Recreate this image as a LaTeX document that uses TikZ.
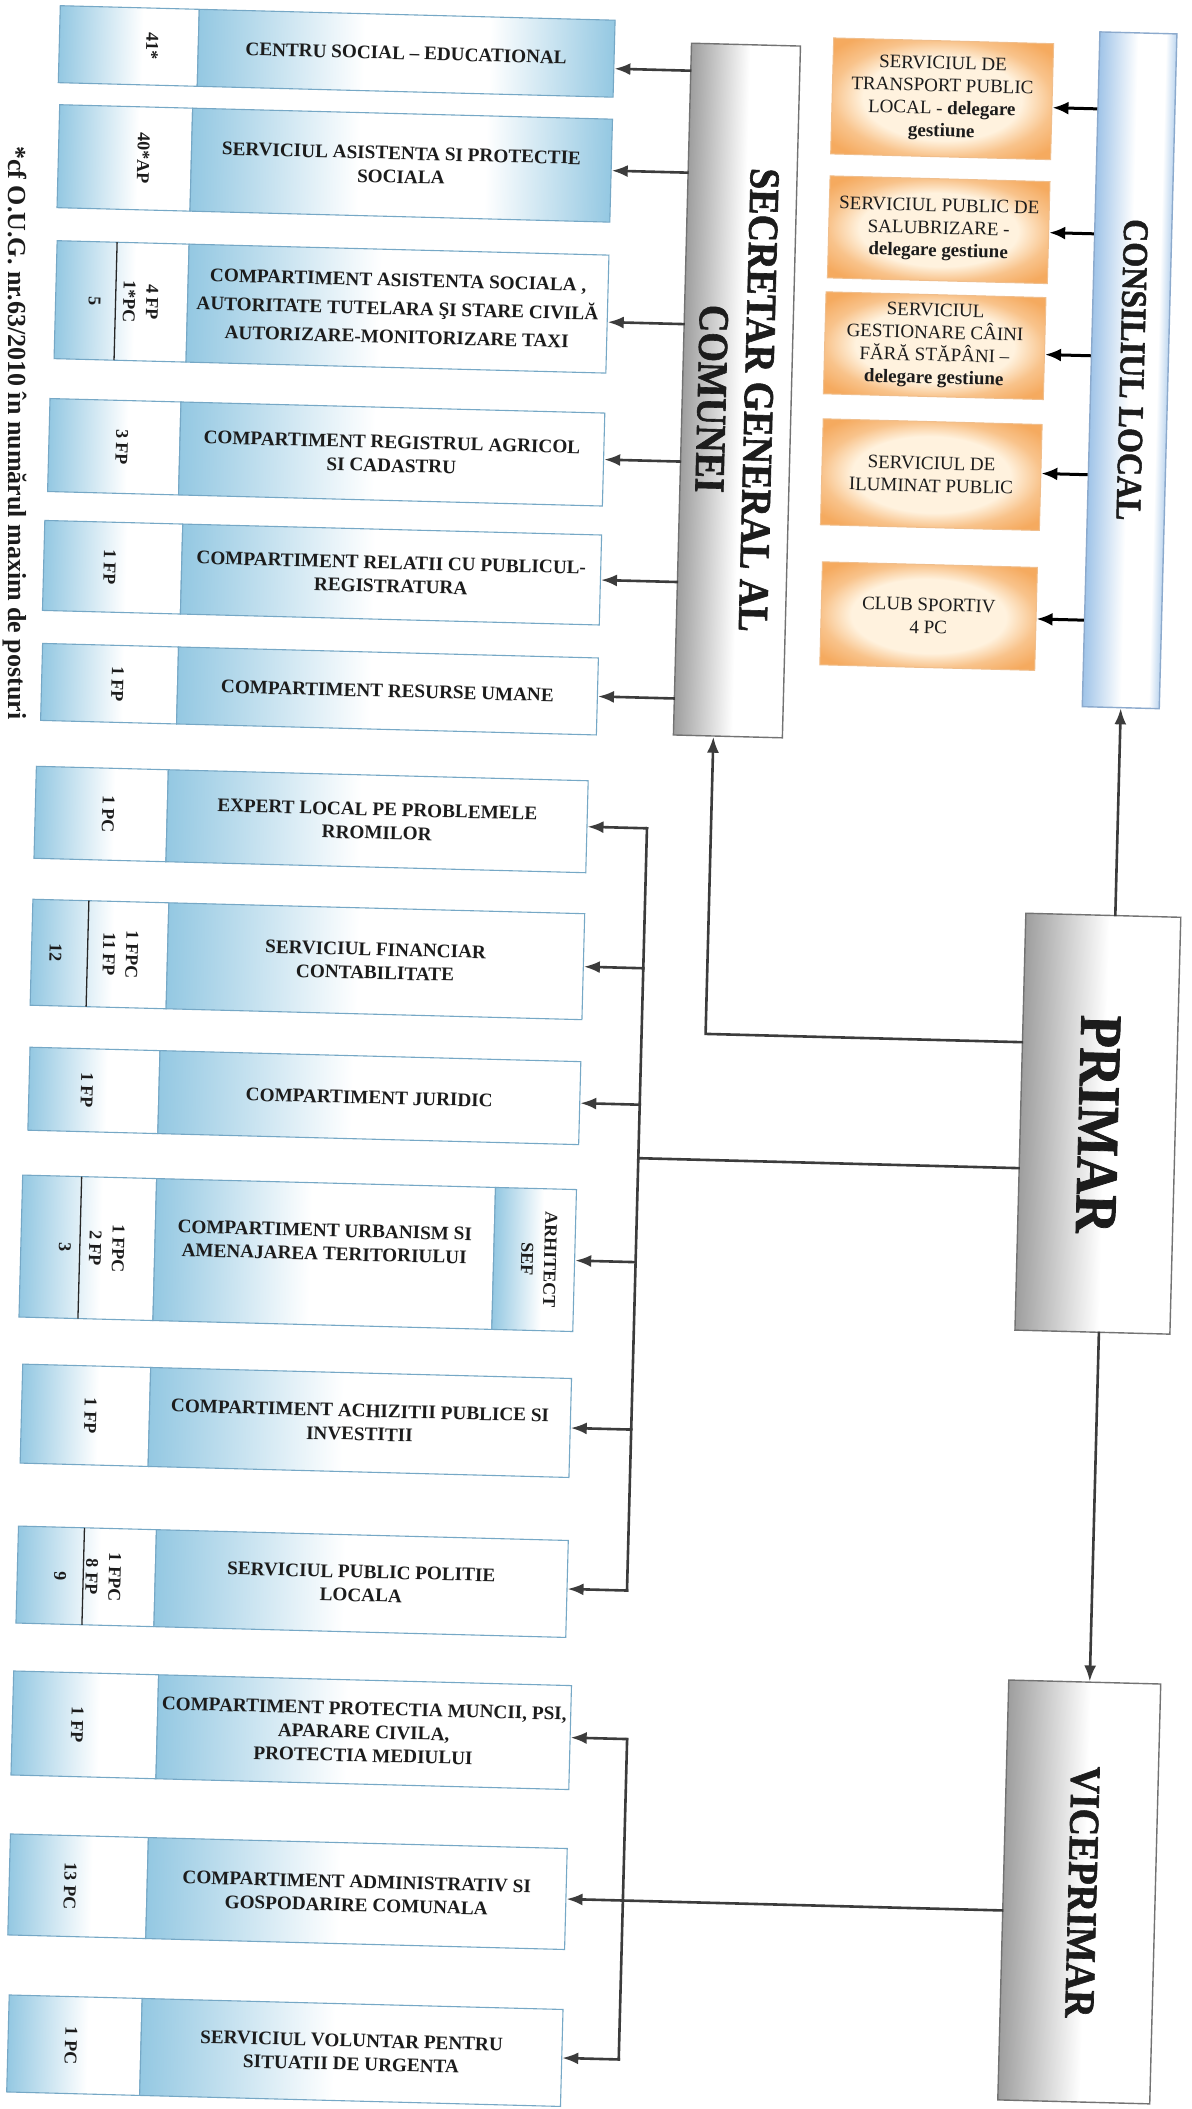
\documentclass[tikz,border=0pt]{standalone}
\usepackage{fontspec}
\setmainfont{Liberation Serif}
\newfontfamily\hdrfont{Liberation Serif}[BoldFeatures={FakeBold=1.5}]
\usetikzlibrary{arrows.meta}
\definecolor{lb}{RGB}{148,200,226}
\definecolor{lbe}{RGB}{118,168,198}
\definecolor{cb}{RGB}{160,196,232}
\definecolor{cbe}{RGB}{140,170,205}
\definecolor{gr}{RGB}{158,158,158}
\definecolor{gre}{RGB}{115,115,115}
\definecolor{orA}{RGB}{245,170,95}
\definecolor{orB}{RGB}{255,242,222}
\definecolor{ore}{RGB}{240,190,140}
\definecolor{ink}{RGB}{28,28,28}
\definecolor{ln}{RGB}{60,60,60}
\pgfdeclarehorizontalshading{bwsmall}{100bp}{color(0bp)=(lb); color(25bp)=(lb); color(55bp)=(white); color(100bp)=(white)}
\pgfdeclarehorizontalshading{bwmain}{100bp}{color(0bp)=(lb); color(25bp)=(lb); color(48bp)=(white); color(100bp)=(white)}
\pgfdeclarehorizontalshading{bwb}{100bp}{color(0bp)=(lb); color(25bp)=(lb); color(45bp)=(white); color(60bp)=(white); color(75bp)=(lb); color(100bp)=(lb)}
\pgfdeclarehorizontalshading{gw}{100bp}{color(0bp)=(gr); color(25bp)=(gr); color(52bp)=(white); color(100bp)=(white)}
\pgfdeclarehorizontalshading{cw}{100bp}{color(0bp)=(cb); color(25bp)=(cb); color(50bp)=(white); color(68bp)=(white); color(75bp)=(cb!70); color(100bp)=(cb!70)}
\pgfdeclareradialshading{orsh}{\pgfpoint{0bp}{0bp}}{color(0bp)=(orB); color(18bp)=(orB); color(25bp)=(orA!65!orB); color(32bp)=(orA); color(50bp)=(orA)}
\tikzset{
  smallsec/.style={draw=lbe, line width=1.1pt, shade, shading=bwsmall, inner sep=0pt},
  mainsec/.style={draw=lbe, line width=1.1pt, shade, inner sep=0pt, align=center, text=ink, font=\fontsize{19.2}{23.5}\selectfont\bfseries},
  txt/.style={inner sep=0pt, align=center, text=ink, font=\fontsize{19.2}{23.5}\selectfont\bfseries},
  cnt/.style={rotate=-90, align=center, inner sep=0pt, text=ink, font=\fontsize{18}{23}\selectfont\bfseries},
  hdr/.style={rotate=-90, yscale=1.12, align=center, inner sep=0pt, text=ink},
  graybox/.style={draw=gre, line width=1.4pt, shade, shading=gw, inner sep=0pt},
  consbox/.style={draw=cbe, line width=1.4pt, shade, shading=cw, inner sep=0pt},
  ornode/.style={draw=ore, line width=1pt, shade, shading=orsh, align=center, text=ink, inner sep=0pt, font=\fontsize{19}{22.5}\selectfont},
  conn/.style={ln, line width=2.6pt, line cap=rect},
  arrL/.style={ln, line width=2.6pt, line cap=rect, -{Latex[length=16pt,width=12pt]}},
  arrR/.style={black, line width=3pt, -{Latex[length=16pt,width=13pt]}},
  sumline/.style={black!85, line width=1.3pt}
}
\newcommand\LBox[8]{%
  \pgfmathsetmacro\qqcy{(#5+#6)/2}%
  \pgfmathsetmacro\qqh{#6-#5}%
  \pgfmathsetmacro\qqxs{(#2+#3)/2}%
  \pgfmathsetmacro\qqws{#3-#2}%
  \pgfmathsetmacro\qqxm{(#3+#4)/2}%
  \pgfmathsetmacro\qqwm{#4-#3}%
  \node[smallsec, minimum width=\qqws pt, minimum height=\qqh pt] (#1s) at (\qqxs,\qqcy) {};%
  \node[mainsec, shading=#7, minimum width=\qqwm pt, minimum height=\qqh pt] (#1) at (\qqxm,\qqcy) {#8};%
}
\begin{document}
\begin{tikzpicture}[x=1pt,y=-1pt]
\fill[white] (0,0) rectangle (1191,2109);
\useasboundingbox (0,0) rectangle (1191,2109);

\node[rotate=-90, anchor=west, inner sep=0pt, text=ink, font=\fontsize{26}{30}\selectfont\bfseries] (fn) at (15,146) {*cf O.U.G. nr.63/2010 în numărul maxim de posturi};

\begin{scope}[transform canvas={rotate around={-1.5:(595,1055)}}]
% ---------- left column ----------
\LBox{b1}{33}{172}{588}{20}{97}{bwb}{CENTRU SOCIAL – EDUCATIONAL}
\LBox{b2}{35}{168}{588}{119}{222}{bwb}{SERVICIUL ASISTENTA SI PROTECTIE\\SOCIALA}
\LBox{b3}{36}{168}{588}{255}{373}{bwmain}{COMPARTIMENT ASISTENTA SOCIALA ,\\[5pt]AUTORITATE TUTELARA ŞI STARE CIVILĂ\\[5pt]AUTORIZARE-MONITORIZARE TAXI}
\LBox{b4}{33}{164}{588}{413}{506}{bwmain}{COMPARTIMENT REGISTRUL AGRICOL\\SI CADASTRU}
\LBox{b5}{31}{169}{588}{535}{625}{bwmain}{COMPARTIMENT RELATII CU PUBLICUL-\\REGISTRATURA}
\LBox{b6}{32}{168}{588}{658}{735}{bwmain}{COMPARTIMENT RESURSE UMANE}
\LBox{b7}{29}{161}{581}{781}{873}{bwmain}{EXPERT LOCAL PE PROBLEMELE\\RROMILOR}
\LBox{b8}{29}{165}{581}{914}{1020}{bwmain}{SERVICIUL FINANCIAR\\CONTABILITATE}
\LBox{b9}{30}{160}{581}{1062}{1145}{bwmain}{COMPARTIMENT JURIDIC}
\node[smallsec, minimum width=134pt, minimum height=142pt] (b10s) at (93,1261) {};
\node[mainsec, shading=bwmain, minimum width=339pt, minimum height=142pt] (b10) at (329.5,1261) {};
\node[smallsec, minimum width=81pt, minimum height=142pt] (b10a) at (539.5,1261) {};
\node[txt] (b10t) at (329.5,1249) {COMPARTIMENT URBANISM SI\\AMENAJAREA TERITORIULUI};
\node[cnt] (b10h) at (544,1261) {ARHITECT\\SEF};
\LBox{b11}{31}{159}{580}{1379}{1478}{bwmain}{COMPARTIMENT ACHIZITII PUBLICE SI\\INVESTITII}
\LBox{b12}{31}{169}{581}{1541}{1638}{bwmain}{SERVICIUL PUBLIC POLITIE\\LOCALA}
\LBox{b13}{30}{175}{588}{1686}{1790}{bwmain}{COMPARTIMENT PROTECTIA MUNCII, PSI,\\APARARE CIVILA,\\PROTECTIA MEDIULUI}
\LBox{b14}{31}{169}{588}{1849}{1950}{bwmain}{COMPARTIMENT ADMINISTRATIV SI\\GOSPODARIRE COMUNALA}
\LBox{b15}{34}{167}{588}{2010}{2107}{bwmain}{SERVICIUL VOLUNTAR PENTRU\\SITUATII DE URGENTA}

% sum lines
\draw[sumline] (96,255) -- (96,373);
\draw[sumline] (85,914) -- (85,1020);
\draw[sumline] (85,1190) -- (85,1332);
\draw[sumline] (97,1541) -- (97,1638);

% counts
\node[cnt] (b1c) at (126,58.5) {41*};
\node[cnt] (b2c) at (120,170.5) {40*AP};
\node[cnt] (b3c) at (121,314) {4 FP\\1*PC};
\node[cnt] (b3t) at (75,314) {5};
\node[cnt] (b4c) at (106,459.5) {3 FP};
\node[cnt] (b5c) at (97,580) {1 FP};
\node[cnt] (b6c) at (108,696.5) {1 FP};
\node[cnt] (b7c) at (102,827) {1 PC};
\node[cnt] (b8c) at (118,967) {1 FPC\\11 FP};
\node[cnt] (b8t) at (53,967) {12};
\node[cnt] (b9c) at (88,1103.5) {1 FP};
\node[cnt] (b10c) at (112,1261) {1 FPC\\2 FP};
\node[cnt] (b10u) at (70,1261) {3};
\node[cnt] (b11c) at (100,1428.5) {1 FP};
\node[cnt] (b12c) at (117,1589.5) {1 FPC\\8 FP};
\node[cnt] (b12t) at (74,1589.5) {9};
\node[cnt] (b13c) at (95,1738) {1 FP};
\node[cnt] (b14c) at (92,1899.5) {13 PC};
\node[cnt] (b15c) at (97,2059) {1 PC};

% ---------- right column ----------
\node[graybox, minimum width=109pt, minimum height=692pt] (SEC) at (719.5,387) {};
\node[hdr, font=\fontsize{38}{42}\selectfont\hdrfont\bfseries] (SECt) at (718,396) {SECRETAR GENERAL AL\\COMUNEI};
\node[consbox, minimum width=77pt, minimum height=675pt] (CONS) at (1111.5,356.5) {};
\node[hdr, font=\fontsize{32}{36}\selectfont\hdrfont\bfseries] (CONSt) at (1114,356) {CONSILIUL LOCAL};

\node[ornode, minimum width=220pt, minimum height=116pt] (O1) at (917,90) {SERVICIUL DE\\TRANSPORT PUBLIC\\LOCAL - \textbf{delegare}\\\textbf{gestiune}};
\node[ornode, minimum width=220pt, minimum height=102pt] (O2) at (917,221) {SERVICIUL PUBLIC DE\\SALUBRIZARE -\\\textbf{delegare gestiune}};
\node[ornode, minimum width=220pt, minimum height=102pt] (O3) at (916,337) {SERVICIUL\\GESTIONARE CÂINI\\FĂRĂ STĂPÂNI –\\\textbf{delegare gestiune}};
\node[ornode, minimum width=219pt, minimum height=106pt] (O4) at (916,466) {SERVICIUL DE\\ILUMINAT PUBLIC};
\node[ornode, minimum width=215pt, minimum height=103pt] (O5) at (917,607.5) {CLUB SPORTIV\\4 PC};

\node[graybox, minimum width=155pt, minimum height=417pt] (PRIM) at (1099.5,1110.5) {};
\node[hdr, font=\fontsize{53}{60}\selectfont\hdrfont\bfseries] (PRIMt) at (1100,1111) {PRIMAR};
\node[graybox, minimum width=152pt, minimum height=420pt] (VICE) at (1101,1879) {};
\node[hdr, font=\fontsize{38}{42}\selectfont\hdrfont\bfseries] (VICEt) at (1104,1879) {VICEPRIMAR};

% ---------- connectors ----------
\coordinate (b1a) at ([yshift=-10pt]b1.east);
\coordinate (b3a) at ([yshift=-8pt]b3.east);
\foreach \n in {b1a,b2.east,b3a,b4.east,b5.east,b6.east}
  \draw[arrL] (SEC.west |- \n) -- (\n);

\coordinate (ps) at (705,1031);
\draw[arrL] (PRIM.west |- ps) -- (ps) -- (ps |- SEC.south);
\draw[arrL] (CONS.south |- PRIM.north) -- (CONS.south);
\coordinate (pv) at (1106,1500);
\draw[arrL] (pv |- PRIM.south) -- (pv |- VICE.north);

\coordinate (mb) at (641,1157);
\draw[conn] (PRIM.west |- mb) -- (mb);
\draw[conn] (mb |- b7.east) -- (mb |- b12.east);
\foreach \n in {b7,b8,b9,b10a,b11,b12}
  \draw[arrL] (mb |- \n.east) -- (\n.east);

\coordinate (bb) at (645,1900);
\draw[arrL] (VICE.west |- b14.east) -- (b14.east);
\draw[conn] (bb |- b13.east) -- (bb |- b15.east);
\draw[arrL] (bb |- b13.east) -- (b13.east);
\draw[arrL] (bb |- b15.east) -- (b15.east);

\coordinate (O1a) at ([yshift=-6pt]O1.east);
\coordinate (O3a) at ([yshift=-6pt]O3.east);
\coordinate (O4a) at ([yshift=4pt]O4.east);
\foreach \n in {O1a,O2.east,O3a,O4a,O5.east}
  \draw[arrR] (CONS.west |- \n) -- (\n);
\end{scope}
\end{tikzpicture}
\end{document}
